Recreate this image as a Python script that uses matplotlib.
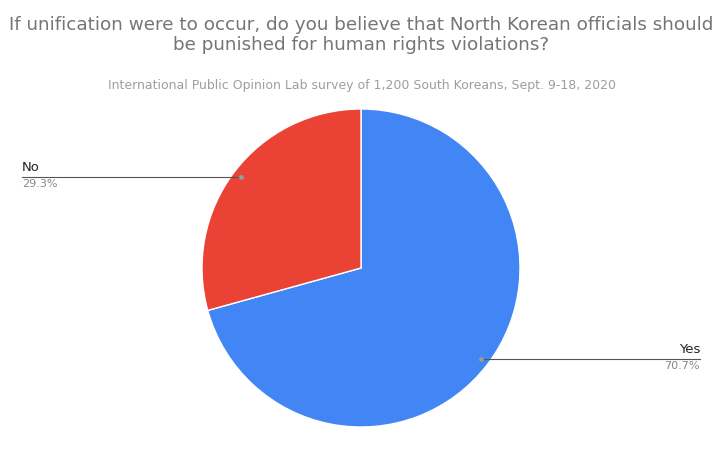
import matplotlib.pyplot as plt
import numpy as np

# datos ------
labels = ['Yes', 'No']
values = [70.7, 29.3]
colors = ['#4285f4', '#ea4335']

fig = plt.figure(figsize=(7.23, 4.5), dpi=100)
ax = fig.add_axes([0, 0, 1, 1])
ax.set_xlim(0, 723)
ax.set_ylim(0, 450)
ax.set_aspect('equal')
ax.axis('off')

cx, cy, r = 361, 450 - 268, 159
ax.pie(values, colors=colors, startangle=90, counterclock=False,
       center=(cx, cy), radius=r, frame=True,
       wedgeprops=dict(edgecolor='white', linewidth=1))
ax.set_xlim(0, 723)
ax.set_ylim(0, 450)
ax.axis('off')

# etiquetas con lineas
start = 90
for lab, v in zip(labels, values):
    ang = np.deg2rad(start - v / 100 * 360 / 2)
    start -= v / 100 * 360
    px, py = cx + 0.95 * r * np.cos(ang), cy + 0.95 * r * np.sin(ang)
    right = np.cos(ang) > 0
    xe = 700 if right else 22
    ax.plot([px, xe], [py, py], color='#555555', lw=0.8)
    ax.plot(px, py, 'o', color='#999999', ms=2.5)
    ha = 'right' if right else 'left'
    ax.text(xe, py + 3, lab, ha=ha, va='bottom', fontsize=9.5, color='#222222',
            family='Arial' if False else 'DejaVu Sans')
    ax.text(xe, py - 2, f'{v}%', ha=ha, va='top', fontsize=8, color='#888888')

fig.text(0.5, 1 - 35 / 450, 'If unification were to occur, do you believe that North Korean officials should\n'
         'be punished for human rights violations?', ha='center', va='center',
         fontsize=13.2, color='#757575', linespacing=1.2)
fig.text(0.5, 1 - 86 / 450, 'International Public Opinion Lab survey of 1,200 South Koreans, Sept. 9-18, 2020',
         ha='center', va='center', fontsize=9, color='#9e9e9e')

fig.savefig('out.png', dpi=100)
